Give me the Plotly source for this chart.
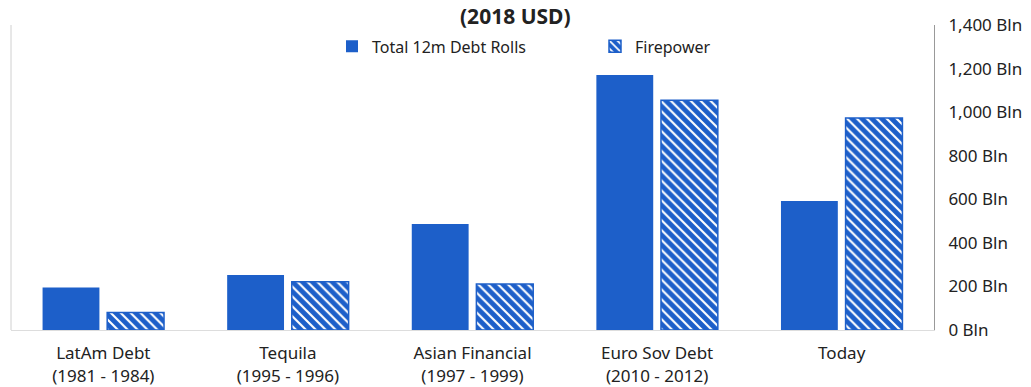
import plotly.graph_objects as go

categories = [
    "LatAm Debt<br>(1981 - 1984)",
    "Tequila<br>(1995 - 1996)",
    "Asian Financial<br>(1997 - 1999)",
    "Euro Sov Debt<br>(2010 - 2012)",
    "Today",
]
debt_rolls = [195, 252, 487, 1170, 592]
firepower = [80, 222, 211, 1055, 973]
y_ticks = [0, 200, 400, 600, 800, 1000, 1200, 1400]
y_tick_labels = ["0 Bln", "200 Bln", "400 Bln", "600 Bln", "800 Bln",
                 "1,000 Bln", "1,200 Bln", "1,400 Bln"]

BLUE = "#1d5fc9"
FONT = "Noto Sans, Open Sans, sans-serif"

fig = go.Figure()
fig.add_trace(go.Bar(
    x=categories, y=debt_rolls, name="Total 12m Debt Rolls",
    marker=dict(color=BLUE, line=dict(color=BLUE, width=0)),
))
fig.add_trace(go.Bar(
    x=categories, y=firepower, name="Firepower",
    marker=dict(
        color=BLUE,
        line=dict(color=BLUE, width=1.5),
        pattern=dict(shape="\\", fgcolor="white", bgcolor=BLUE,
                     fillmode="replace", size=7, solidity=0.3),
    ),
))

fig.add_annotation(
    text="<b>(2018 USD)</b>", xref="paper", yref="paper",
    x=(515 - 11) / 923, y=1 + 25 / 305, xanchor="center", yanchor="top",
    showarrow=False, font=dict(family=FONT, size=21, color="#222"),
)

# faint left frame line
fig.add_shape(type="line", xref="paper", yref="paper", x0=0, x1=0, y0=0, y1=1,
              line=dict(color="#d0d0d0", width=1))

fig.update_layout(
    width=1031, height=387,
    margin=dict(l=11, r=97, t=25, b=57, autoexpand=False),
    paper_bgcolor="white", plot_bgcolor="white",
    barmode="group", bargap=0.30, bargroupgap=0.12,
    font=dict(family=FONT, size=17, color="#222"),
    showlegend=True,
    legend=dict(
        orientation="h", x=(332 - 11) / 923, xanchor="left",
        y=0.93, yanchor="middle",
        font=dict(family=FONT, size=16, color="#222"),
        entrywidth=218, entrywidthmode="pixels",
        itemwidth=30, bgcolor="rgba(0,0,0,0)",
    ),
    xaxis=dict(
        range=[-0.5, 4.5], showline=True, linecolor="#dddddd", linewidth=1,
        ticks="outside", ticklen=8, tickcolor="rgba(0,0,0,0)",
        tickfont=dict(family=FONT, size=17, color="#222"),
        showgrid=False, automargin=False,
    ),
    yaxis=dict(
        side="right", range=[0, 1400], tickvals=y_ticks, ticktext=y_tick_labels,
        showline=True, linecolor="#999999", linewidth=1,
        showgrid=False, zeroline=False, automargin=False,
        ticks="outside", ticklen=10, tickcolor="rgba(0,0,0,0)",
        tickfont=dict(family=FONT, size=17, color="#222"),
    ),
)

fig.write_html("out.html")
